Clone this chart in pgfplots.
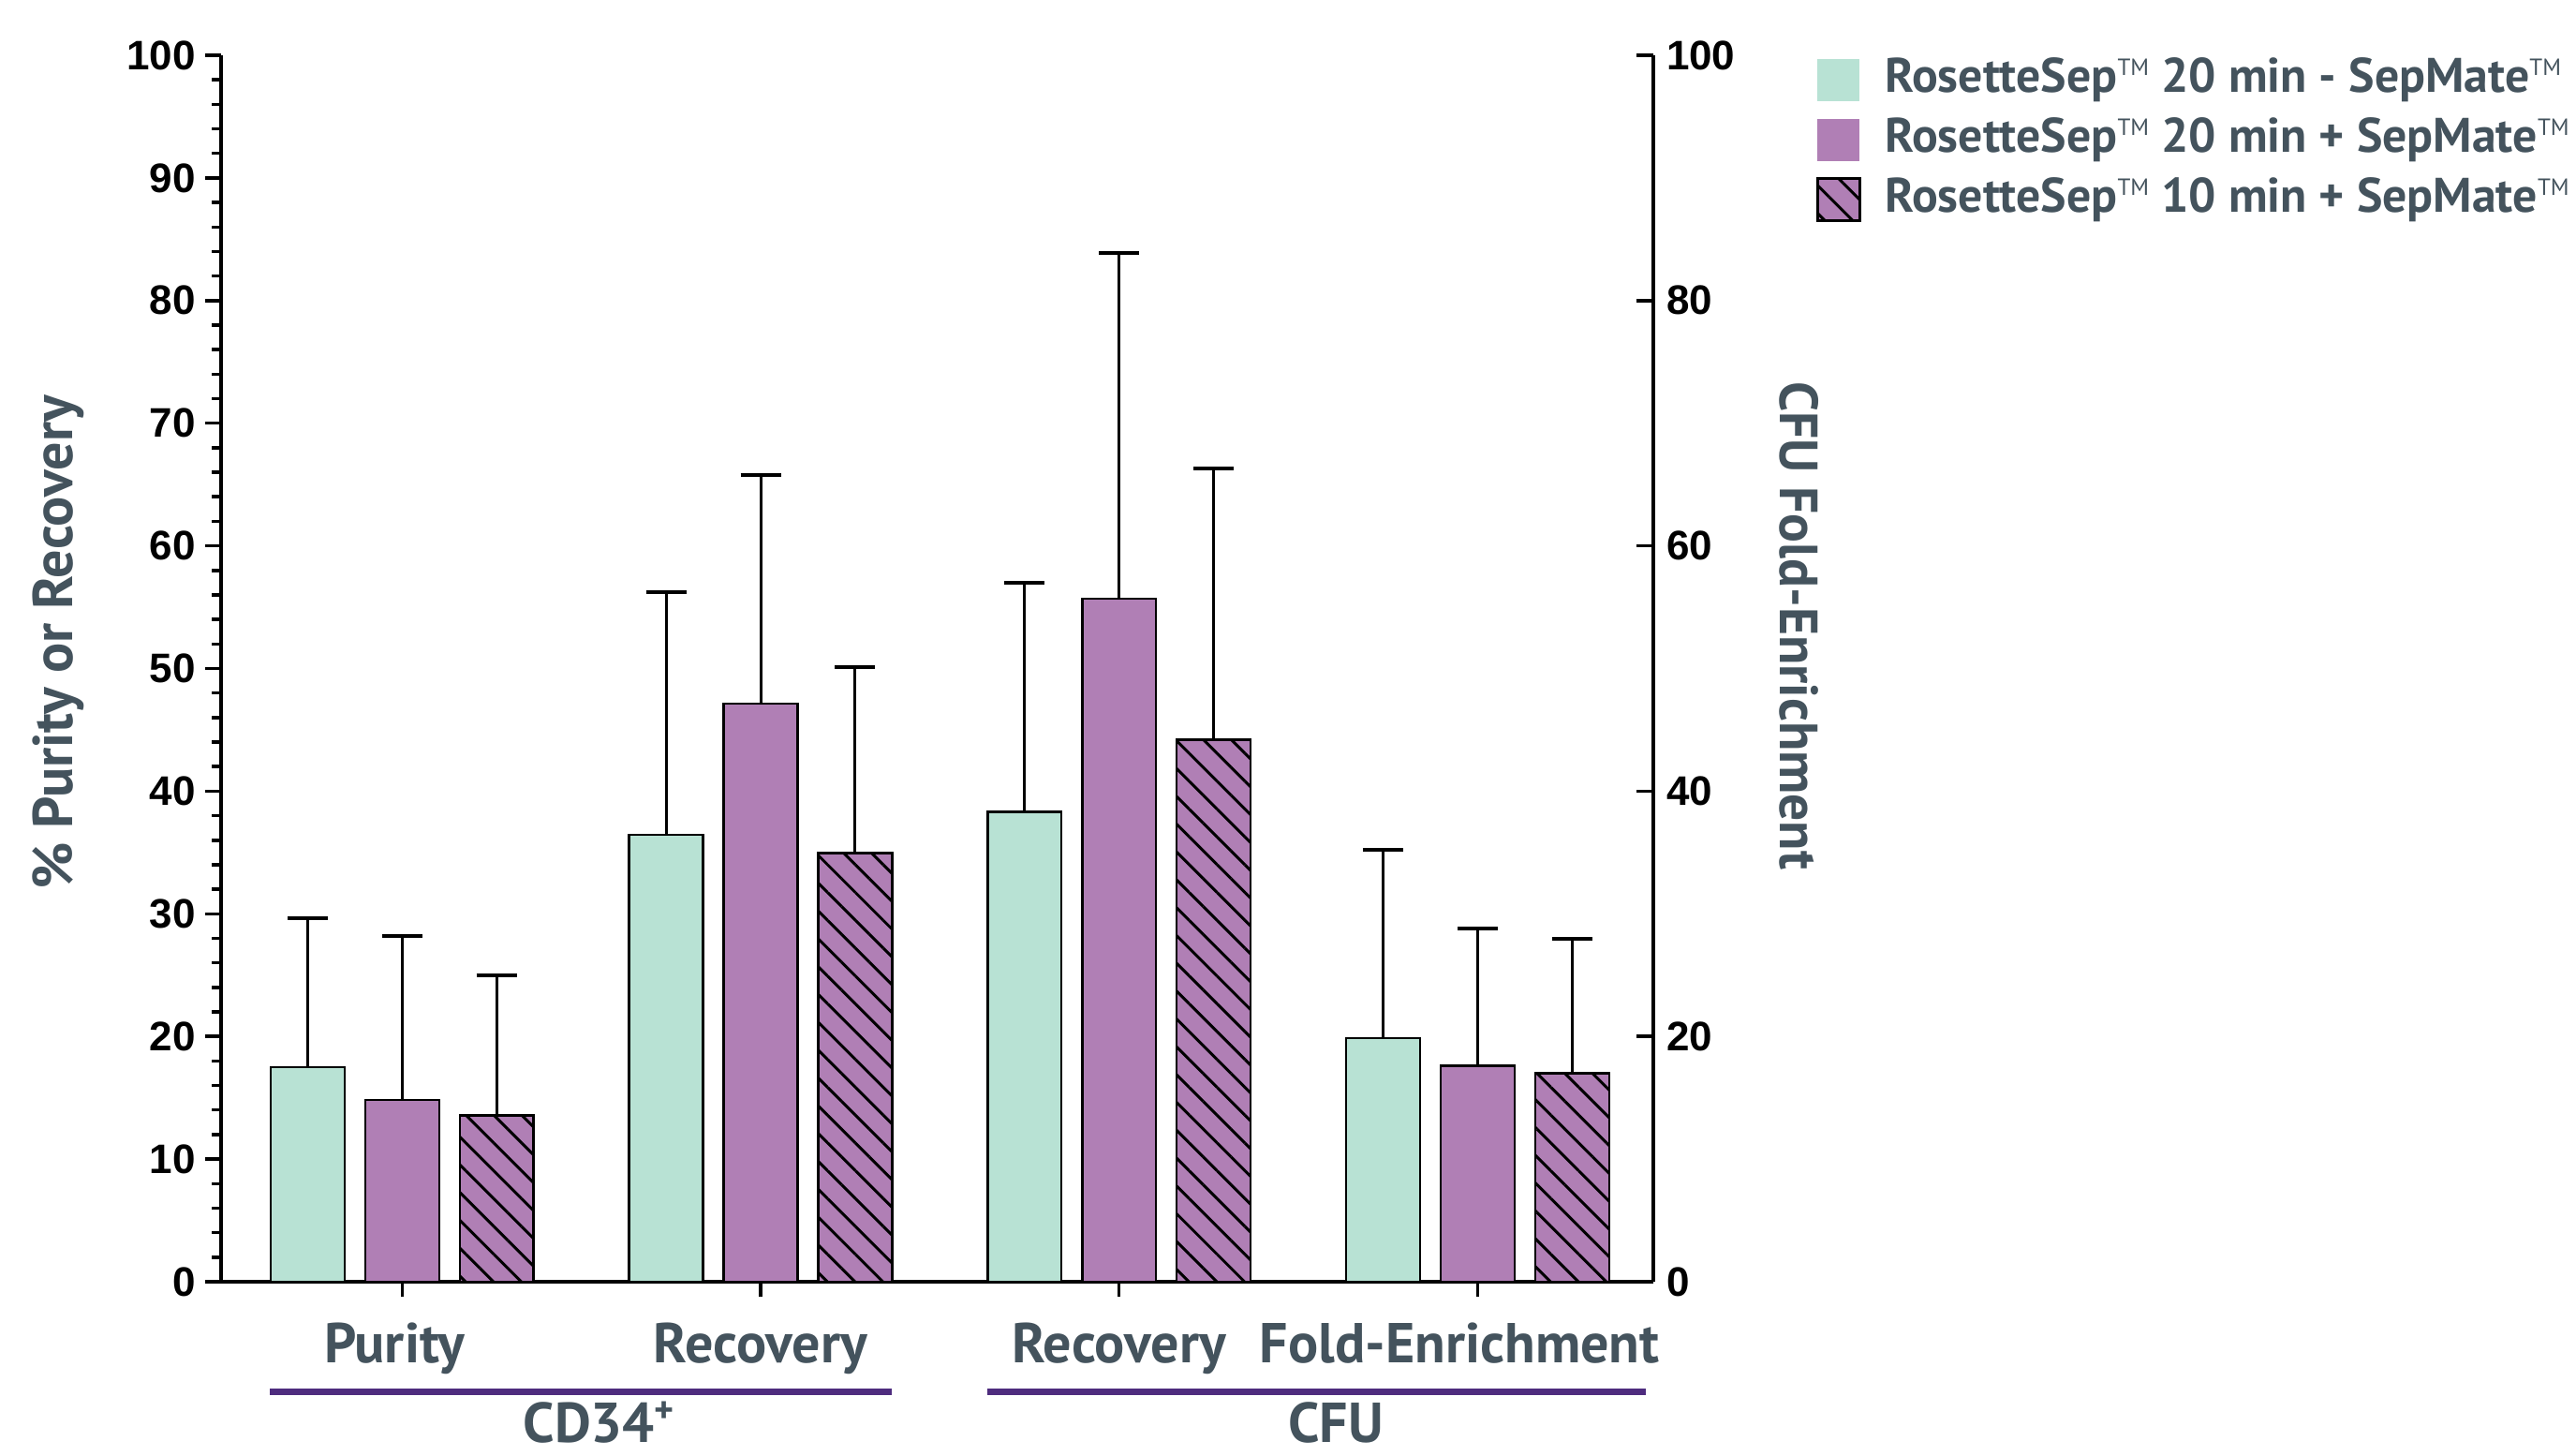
\documentclass[border=0pt]{standalone}
\usepackage{pgfplots}
\usepackage{pgfplotstable}
\pgfplotsset{compat=1.18}
\usetikzlibrary{patterns.meta}
\usepackage{fontspec}
\setmainfont{PT Sans}
\newfontfamily\tickfont{Liberation Sans}
\definecolor{tealbar}{HTML}{B8E2D4}
\definecolor{purbar}{HTML}{B07FB5}
\definecolor{txt}{HTML}{44535D}
\definecolor{grpline}{HTML}{4E2C7E}
\newcommand{\lblfont}{\fontsize{12}{14}\selectfont\bfseries\color{txt}}
\newcommand{\rlblfont}{\fontsize{11.5}{14}\selectfont\bfseries\color{txt}}
\newcommand{\legfont}{\fontsize{10.35}{13}\selectfont\bfseries\color{txt}}
\newcommand{\tckfont}{\fontsize{8.8}{10}\selectfont\tickfont\bfseries}
\newcommand{\tm}{\raisebox{0.36em}{\fontsize{5}{5}\selectfont\mdseries TM}}
\pgfplotsset{sqlegend/.style={legend image code/.code={\fill[##1,draw=none] (0pt,-4.5pt) rectangle (9pt,4.5pt);}}}

% x = group position + bar offset (groups at 0,1,2,3; offsets -0.2638, 0, +0.2638)
\pgfplotstableread{
x y err
-0.2638 17.50 12.14
0.7362 36.44 19.76
1.7362 38.30 18.70
2.7362 19.86 15.33
}\dataA
\pgfplotstableread{
x y err
0 14.82 13.34
1 47.13 18.62
2 55.70 28.20
3 17.60 11.20
}\dataB
\pgfplotstableread{
x y err
0.2638 13.55 11.45
1.2638 34.94 15.15
2.2638 44.20 22.10
3.2638 17.00 10.98
}\dataC

\begin{document}
\begin{tikzpicture}
\begin{axis}[
  at={(0pt,0pt)}, anchor=south west,
  scale only axis, width=305.8pt, height=261.8pt,
  xmin=-0.505, xmax=3.49, ymin=0, ymax=100,
  axis x line*=bottom, axis y line*=left,
  axis line style={line width=0.8pt, black},
  tick align=outside,
  every tick/.style={black, line width=0.7pt},
  major tick length=3.3pt, minor tick length=1.9pt,
  xtick={0,1,2,3},
  xticklabels={Purity\kern3.2pt,Recovery,Recovery,Fold-Enrichment\kern7.7pt},
  xticklabel style={font=\lblfont, anchor=base, yshift=-14.1pt},
  ytick={0,10,...,100},
  minor y tick num=4,
  /pgf/number format/assume math mode=true,
  yticklabel style={font=\tckfont, inner sep=0pt, xshift=-2pt},
  every axis y label/.style={at={(axis description cs:-0.1138,0.521)}, rotate=90, anchor=center, font=\lblfont},
  ylabel={\% Purity or Recovery},
  clip=false,
  legend cell align=left,
  legend style={at={(axis description cs:1.1138,0.9995)}, anchor=north west,
    draw=none, fill=none, inner sep=0pt, outer sep=0pt,
    nodes={inner sep=0pt, text height=7.8pt, text depth=2.4pt, font=\legfont},
    row sep=2.6pt, column sep=5.2pt},
  error bars/error bar style={line width=0.6pt, black},
  error bars/error mark=-,
  error bars/error mark options={rotate=90, mark size=4.3pt, line width=0.85pt, black},
]
\addplot[ybar, bar width=0.2063, bar shift=0pt, fill=tealbar, draw=black, line width=0.5pt, sqlegend,
  error bars/.cd, y dir=plus, y explicit]
  table[x=x, y=y, y error=err]{\dataA};
\addlegendentry{RosetteSep\tm{} 20 min - SepMate\tm}
\addplot[ybar, bar width=0.2063, bar shift=0pt, fill=purbar, draw=black, line width=0.5pt, sqlegend,
  error bars/.cd, y dir=plus, y explicit]
  table[x=x, y=y, y error=err]{\dataB};
\addlegendentry{RosetteSep\tm{} 20 min + SepMate\tm}
\addplot[ybar, bar width=0.2063, bar shift=0pt, fill=purbar, draw=black, line width=0.5pt, sqlegend,
  postaction={pattern={Lines[angle=-45, distance=4.2pt, line width=0.6pt]}, pattern color=black},
  error bars/.cd, y dir=plus, y explicit]
  table[x=x, y=y, y error=err]{\dataC};
\addlegendentry{RosetteSep\tm{} 10 min + SepMate\tm}

\draw[grpline, line width=1.34pt] ([yshift=-23.5pt]axis cs:-0.368,0) -- ([yshift=-23.5pt]axis cs:1.366,0);
\draw[grpline, line width=1.34pt] ([yshift=-23.5pt]axis cs:1.633,0) -- ([yshift=-23.5pt]axis cs:3.469,0);
\node[font=\lblfont, anchor=base, inner sep=0pt] at ([yshift=-34.4pt]axis cs:0.552,0) {CD34\textsuperscript{+}};
\node[font=\lblfont, anchor=base, inner sep=0pt] at ([yshift=-34.4pt]axis cs:2.604,0) {CFU};
\end{axis}
\begin{axis}[
  at={(0pt,0pt)}, anchor=south west,
  scale only axis, width=305.8pt, height=261.8pt,
  xmin=-0.505, xmax=3.49, ymin=0, ymax=100,
  axis x line=none, axis y line*=right,
  axis line style={line width=0.8pt, black},
  tick align=inside,
  every tick/.style={black, line width=0.7pt},
  major tick length=3.6pt,
  ytick={0,20,...,100},
  /pgf/number format/assume math mode=true,
  yticklabel style={font=\tckfont, inner sep=0pt, anchor=west, xshift=2.6pt},
  every axis y label/.style={at={(axis description cs:1.102,0.5348)}, rotate=-90, anchor=center, font=\rlblfont},
  ylabel={CFU Fold-Enrichment},
]
\end{axis}
\pgfresetboundingbox
\path (-47.2pt,-37.2pt) rectangle (502.8pt,273.6pt);
\end{tikzpicture}
\end{document}
